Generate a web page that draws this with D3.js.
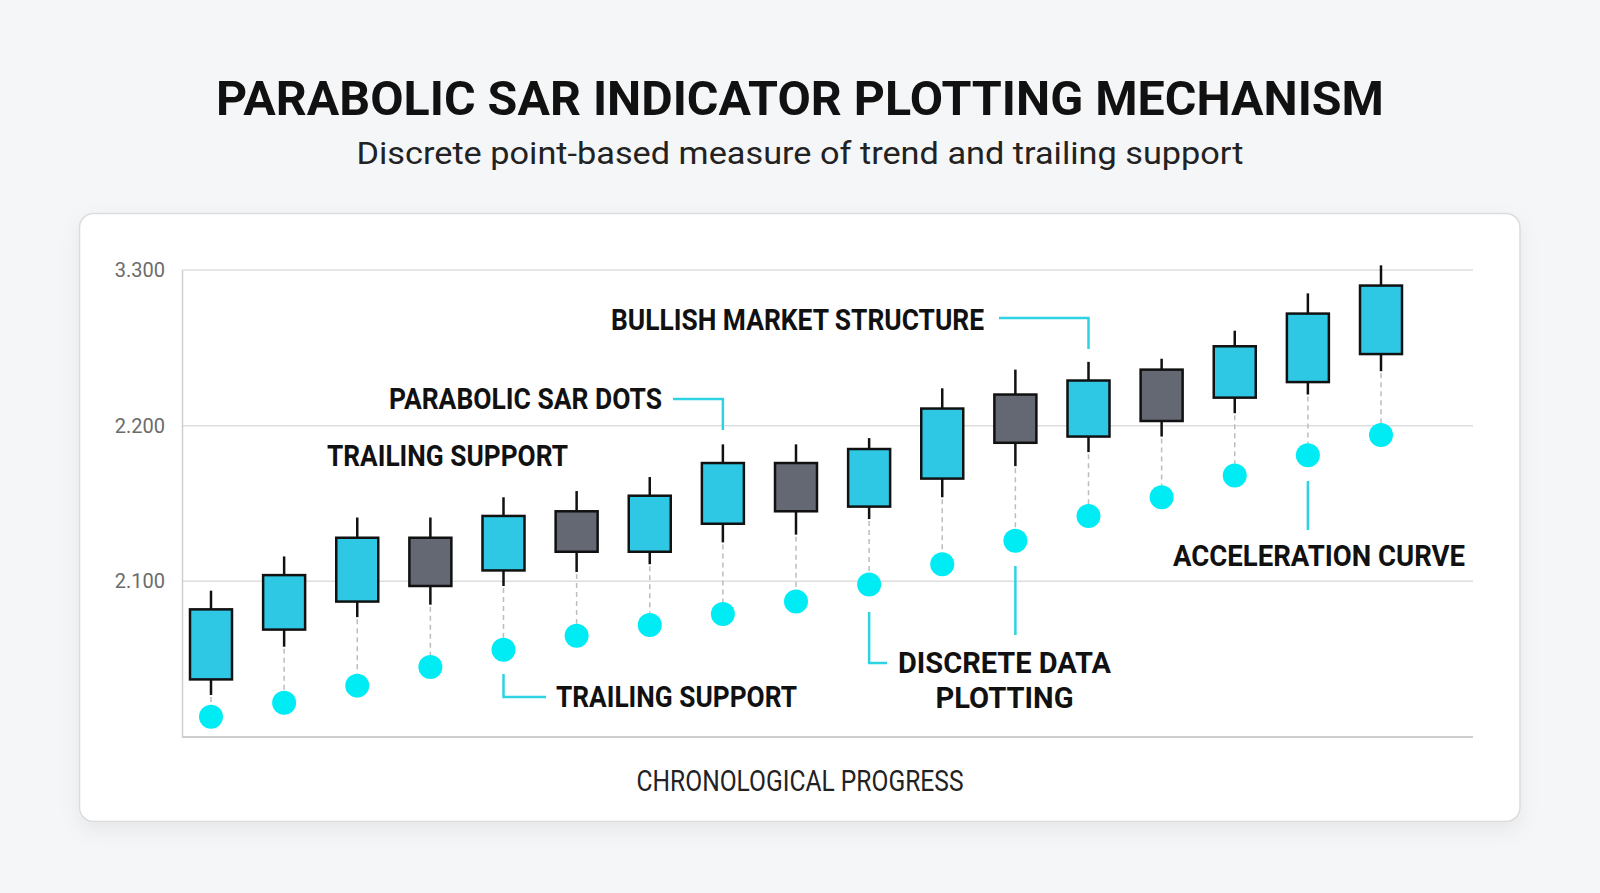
<!DOCTYPE html>
<html>
<head>
<meta charset="utf-8">
<script src="https://cdn.jsdelivr.net/npm/d3@7"></script>
<style>
  body { margin: 0; background: #f5f6f8; }
  svg { display: block; font-family: Roboto, "Noto Sans", sans-serif; }
</style>
</head>
<body>
<div id="chart"></div>
<script>
// chart values
var periods = ["P1", "P2", "P3", "P4", "P5", "P6", "P7", "P8", "P9", "P10", "P11", "P12", "P13", "P14", "P15", "P16", "P17"];
var openVals  = [2.037, 2.069, 2.087, 2.128, 2.107, 2.145, 2.119, 2.137, 2.176, 2.148, 2.166, 2.220, 2.193, 2.236, 2.218, 2.228, 2.246];
var closeVals = [2.082, 2.104, 2.128, 2.097, 2.142, 2.119, 2.155, 2.176, 2.145, 2.185, 2.211, 2.189, 2.229, 2.203, 2.251, 2.272, 2.290];
var highVals  = [2.094, 2.116, 2.141, 2.141, 2.154, 2.158, 2.167, 2.188, 2.188, 2.192, 2.224, 2.236, 2.241, 2.243, 2.261, 2.285, 2.303];
var lowVals   = [2.027, 2.058, 2.077, 2.085, 2.097, 2.106, 2.111, 2.125, 2.130, 2.140, 2.154, 2.174, 2.183, 2.193, 2.208, 2.220, 2.235];
var sarVals   = [2.013, 2.022, 2.033, 2.045, 2.056, 2.065, 2.072, 2.079, 2.087, 2.098, 2.111, 2.126, 2.142, 2.154, 2.168, 2.181, 2.194];
var yTickVals = [2.1, 2.2, 2.3];
var yTickLabels = ["2.100", "2.200", "3.300"];

var data = periods.map(function(p, i) {
    return { period: p, open: openVals[i], close: closeVals[i], high: highVals[i], low: lowVals[i], sar: sarVals[i] };
});

// svg wrapper
var svgWidth = 1600;
var svgHeight = 893;
var margin = { top: 270, left: 182, right: 127, bottom: 156 };
var width = svgWidth - margin.left - margin.right;
var height = svgHeight - margin.top - margin.bottom;

var cyan = "#2ec8e4";
var grey = "#646873";
var dotColor = "#00ecf5";
var leader = "#2ed3e3";
var ink = "#111";

var svg = d3.select("#chart")
    .append("svg")
    .attr("width", svgWidth)
    .attr("height", svgHeight);

var defs = svg.append("defs");
var shadow = defs.append("filter").attr("id", "shadow")
    .attr("x", "-5%").attr("y", "-5%").attr("width", "110%").attr("height", "120%");
shadow.append("feDropShadow")
    .attr("dx", 0).attr("dy", 8).attr("stdDeviation", 10)
    .attr("flood-color", "#000").attr("flood-opacity", 0.06);

// title + subtitle
svg.append("text")
    .attr("x", 800).attr("y", 115)
    .attr("text-anchor", "middle")
    .attr("font-size", "49px").attr("font-weight", 700)
    .attr("fill", ink)
    .attr("textLength", 1168).attr("lengthAdjust", "spacingAndGlyphs")
    .text("PARABOLIC SAR INDICATOR PLOTTING MECHANISM");

svg.append("text")
    .attr("x", 800).attr("y", 164)
    .attr("text-anchor", "middle")
    .attr("font-size", "31px")
    .attr("fill", "#222")
    .attr("textLength", 887).attr("lengthAdjust", "spacingAndGlyphs")
    .text("Discrete point-based measure of trend and trailing support");

// card
svg.append("rect")
    .attr("x", 79.5).attr("y", 213.5)
    .attr("width", 1440.5).attr("height", 608)
    .attr("rx", 14)
    .attr("fill", "#fff")
    .attr("stroke", "#dcdcdc")
    .attr("stroke-width", 1.5)
    .attr("filter", "url(#shadow)");

var chartGroup = svg.append("g")
    .attr("transform", `translate(${margin.left}, ${margin.top})`);

// scales
var xScale = d3.scalePoint()
    .domain(periods)
    .range([29, 1199]);

var yScale = d3.scaleLinear()
    .domain([2.0, 2.3])
    .range([height, 0]);

// gridlines
chartGroup.append("g")
    .selectAll("line")
    .data(yTickVals)
    .enter()
    .append("line")
    .attr("x1", 0).attr("x2", width)
    .attr("y1", d => yScale(d)).attr("y2", d => yScale(d))
    .attr("stroke", "#dedede")
    .attr("stroke-width", 1.5);

// y axis
var yAxis = d3.axisLeft(yScale)
    .tickValues(yTickVals)
    .tickSize(0)
    .tickPadding(17)
    .tickFormat((d, i) => yTickLabels[i]);

var yAxisG = chartGroup.append("g").call(yAxis);
yAxisG.select(".domain").attr("stroke", "#cfcfcf").attr("stroke-width", 1.5);
yAxisG.selectAll("text")
    .attr("font-family", "Roboto, sans-serif")
    .attr("font-size", "20px")
    .attr("fill", "#6b6b6b");

// x axis (no tick labels)
var xAxis = d3.axisBottom(xScale).tickSize(0).tickFormat("");
var xAxisG = chartGroup.append("g")
    .attr("transform", `translate(0, ${height})`)
    .call(xAxis);
xAxisG.select(".domain")
    .attr("d", `M0,0H${width}`)
    .attr("stroke", "#cfcfcf").attr("stroke-width", 2);

var bodyW = 42;
var dotR = 12;

// dashed connectors low -> SAR dot
chartGroup.append("g")
    .selectAll("line")
    .data(data)
    .enter()
    .append("line")
    .attr("x1", d => xScale(d.period)).attr("x2", d => xScale(d.period))
    .attr("y1", d => yScale(d.low) + 2)
    .attr("y2", d => yScale(d.sar) - dotR)
    .attr("stroke", "#bdbdbd")
    .attr("stroke-width", 1.5)
    .attr("stroke-dasharray", "5,4");

// wicks
chartGroup.append("g")
    .selectAll("line")
    .data(data)
    .enter()
    .append("line")
    .attr("x1", d => xScale(d.period)).attr("x2", d => xScale(d.period))
    .attr("y1", d => yScale(d.high))
    .attr("y2", d => yScale(d.low))
    .attr("stroke", ink)
    .attr("stroke-width", 2.5);

// bodies
chartGroup.append("g")
    .selectAll("rect")
    .data(data)
    .enter()
    .append("rect")
    .attr("x", d => xScale(d.period) - bodyW / 2)
    .attr("y", d => yScale(Math.max(d.open, d.close)))
    .attr("width", bodyW)
    .attr("height", d => Math.abs(yScale(d.open) - yScale(d.close)))
    .attr("fill", d => d.close >= d.open ? cyan : grey)
    .attr("stroke", ink)
    .attr("stroke-width", 2.5);

// SAR dots
chartGroup.append("g")
    .selectAll("circle")
    .data(data)
    .enter()
    .append("circle")
    .attr("cx", d => xScale(d.period))
    .attr("cy", d => yScale(d.sar))
    .attr("r", dotR)
    .attr("fill", dotColor);

// annotations (page coords)
var ann = svg.append("g");
function px(i) { return margin.left + xScale(periods[i]); }

function label(txt, x, y, len, anchor) {
    ann.append("text")
        .attr("x", x).attr("y", y)
        .attr("text-anchor", anchor || "start")
        .attr("font-size", "30px").attr("font-weight", 700)
        .attr("fill", ink)
        .attr("textLength", len).attr("lengthAdjust", "spacingAndGlyphs")
        .text(txt);
}
function lead(d) {
    ann.append("path")
        .attr("d", d)
        .attr("fill", "none")
        .attr("stroke", leader)
        .attr("stroke-width", 2.5);
}

label("BULLISH MARKET STRUCTURE", 611, 330, 373);
lead(`M999,318H${px(12)}V349`);

label("PARABOLIC SAR DOTS", 389, 409, 273);
lead(`M673,399H${px(7)}V430`);

label("TRAILING SUPPORT", 327, 466, 241);

label("TRAILING SUPPORT", 556, 707, 241);
lead(`M${px(4)},674V697H546`);

label("DISCRETE DATA", 898, 673, 213);
label("PLOTTING", 1004.5, 708, 138, "middle");
lead(`M${px(9)},612V663H887`);
lead(`M${px(11)},566V635`);

label("ACCELERATION CURVE", 1173, 566, 292);
lead(`M${px(15)},481V530`);

// x axis label
svg.append("text")
    .attr("x", 800).attr("y", 791)
    .attr("text-anchor", "middle")
    .attr("font-size", "29px")
    .attr("fill", "#222")
    .attr("textLength", 327).attr("lengthAdjust", "spacingAndGlyphs")
    .text("CHRONOLOGICAL PROGRESS");
</script>
</body>
</html>
